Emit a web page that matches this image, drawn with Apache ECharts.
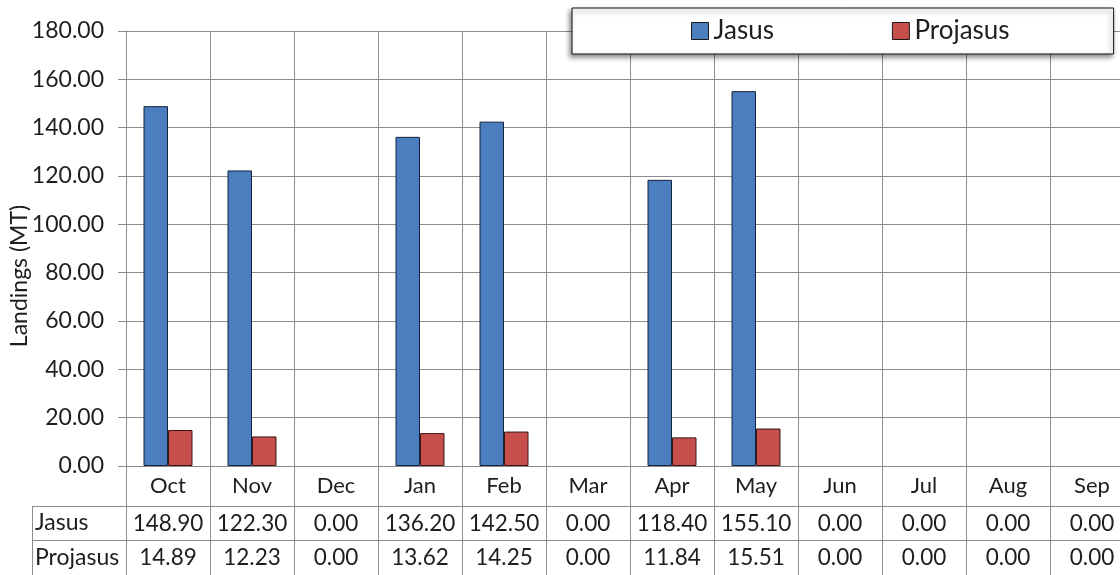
<!DOCTYPE html>
<html>
<head>
<meta charset="utf-8">
<style>
  html, body { margin: 0; padding: 0; background: #fff; overflow: hidden; }
  /* the last column of the table runs past the right edge of the view */
  #chart { width: 1134px; height: 575px; }
</style>
<script src="https://cdn.jsdelivr.net/npm/echarts@6/dist/echarts.min.js"></script>
</head>
<body>
<div id="chart"></div>
<script>
// Monthly lobster landings (MT), Oct–Sep season
const months = ['Oct', 'Nov', 'Dec', 'Jan', 'Feb', 'Mar', 'Apr', 'May', 'Jun', 'Jul', 'Aug', 'Sep'];
const jasus = [148.90, 122.30, 0.00, 136.20, 142.50, 0.00, 118.40, 155.10, 0.00, 0.00, 0.00, 0.00];
const projasus = [14.89, 12.23, 0.00, 13.62, 14.25, 0.00, 11.84, 15.51, 0.00, 0.00, 0.00, 0.00];
const seriesNames = ['Jasus', 'Projasus'];
const yTicks = { min: 0, max: 180, step: 20 };

// plot area and data table geometry
const H = 575;
const gridLeft = 126, gridTop = 31, gridH = 435;
const headRow = 40, row1 = 34, row2 = 35;
const tableLeft = 32;
const lineColor = '#8c8c8c';
const textColor = '#1e1e1e';
const FONT = 'Lato, "Open Sans", sans-serif';

const chart = echarts.init(document.getElementById('chart'), null, { renderer: 'canvas' });

// a zero-height bar should leave no outline on the axis
function barData(values) {
  return values.map(v => (v === 0 ? { value: v, itemStyle: { borderWidth: 0 } } : v));
}

function tableAxis(values, offset, tickLen) {
  return {
    type: 'category',
    data: months,
    position: 'bottom',
    offset: offset,
    boundaryGap: true,
    axisLine: { show: true, lineStyle: { color: lineColor, width: 1 } },
    axisTick: { show: true, length: tickLen, interval: 0, lineStyle: { color: lineColor, width: 1 } },
    axisLabel: {
      interval: 0, margin: 6, fontSize: 22.5, fontFamily: FONT, color: textColor,
      formatter: (v, i) => values[i].toFixed(2)
    },
    splitLine: { show: false }
  };
}

const bottom = gridTop + gridH;
const option = {
  animation: false,
  backgroundColor: '#fff',
  textStyle: { fontFamily: FONT },
  grid: { left: gridLeft, top: gridTop, right: 0, height: gridH, containLabel: false },
  legend: {
    data: seriesNames,
    left: 572, top: 8,
    orient: 'horizontal',
    padding: [10, 104, 10, 119],
    itemGap: 118,
    itemWidth: 17, itemHeight: 17,
    icon: 'rect',
    itemStyle: { borderWidth: 1, borderColor: '#1a1a1a' },
    textStyle: { fontSize: 26, color: textColor, fontFamily: FONT },
    backgroundColor: '#fff',
    borderColor: '#111', borderWidth: 1, borderRadius: 0,
    shadowColor: 'rgba(0,0,0,0.45)', shadowBlur: 5, shadowOffsetX: -2, shadowOffsetY: 3
  },
  xAxis: [
    {
      type: 'category',
      data: months,
      position: 'bottom',
      boundaryGap: true,
      axisLine: { show: true, lineStyle: { color: lineColor, width: 1 } },
      axisTick: { show: true, length: headRow, interval: 0, lineStyle: { color: lineColor, width: 1 } },
      axisLabel: { interval: 0, margin: 9, fontSize: 22, fontFamily: FONT, color: textColor },
      splitLine: { show: true, interval: 0, lineStyle: { color: lineColor, width: 1 } }
    },
    tableAxis(jasus, headRow, row1),
    tableAxis(projasus, headRow + row1, row2)
  ],
  yAxis: {
    type: 'value',
    min: yTicks.min, max: yTicks.max, interval: yTicks.step,
    axisLine: { show: true, lineStyle: { color: lineColor, width: 1 } },
    axisTick: { show: true, length: 8, lineStyle: { color: lineColor, width: 1 } },
    axisLabel: { margin: 22, fontSize: 23, fontFamily: FONT, color: textColor, formatter: v => v.toFixed(2) },
    splitLine: { show: true, lineStyle: { color: lineColor, width: 1 } }
  },
  series: [
    {
      name: seriesNames[0], type: 'bar', xAxisIndex: 0, data: barData(jasus),
      barWidth: 24.5, barGap: '0%',
      itemStyle: { color: '#4a7ebf', borderColor: '#14213d', borderWidth: 1 }
    },
    {
      name: seriesNames[1], type: 'bar', xAxisIndex: 0, data: barData(projasus),
      barWidth: 24.5, barGap: '0%',
      itemStyle: { color: '#c64f4c', borderColor: '#3a1616', borderWidth: 1 }
    }
  ],
  graphic: [
    // y-axis title
    {
      type: 'text', x: 20, y: 276, rotation: Math.PI / 2,
      style: {
        text: 'Landings (MT)', fontSize: 23, fontFamily: FONT, fill: textColor,
        align: 'center', verticalAlign: 'middle'
      }
    },
    // row headers of the data table
    {
      type: 'text', x: tableLeft + 3, y: bottom + headRow + row1 / 2,
      style: { text: seriesNames[0], fontSize: 23, fontFamily: FONT, fill: textColor, align: 'left', verticalAlign: 'middle' }
    },
    {
      type: 'text', x: tableLeft + 3, y: bottom + headRow + row1 + row2 / 2,
      style: { text: seriesNames[1], fontSize: 23, fontFamily: FONT, fill: textColor, align: 'left', verticalAlign: 'middle' }
    },
    // borders of the row-header column
    { type: 'line', shape: { x1: tableLeft, y1: bottom + headRow + 0.5, x2: gridLeft, y2: bottom + headRow + 0.5 }, style: { stroke: lineColor, lineWidth: 1 } },
    { type: 'line', shape: { x1: tableLeft, y1: bottom + headRow + row1 + 0.5, x2: gridLeft, y2: bottom + headRow + row1 + 0.5 }, style: { stroke: lineColor, lineWidth: 1 } },
    { type: 'line', shape: { x1: tableLeft + 0.5, y1: bottom + headRow, x2: tableLeft + 0.5, y2: H }, style: { stroke: lineColor, lineWidth: 1 } }
  ]
};

chart.setOption(option);
</script>
</body>
</html>
